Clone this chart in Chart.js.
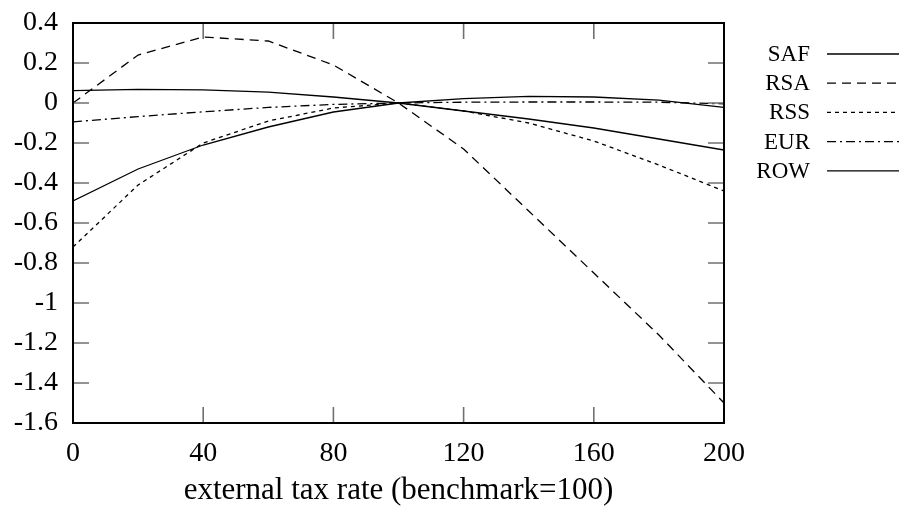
<!DOCTYPE html>
<html>
<head>
<meta charset="utf-8">
<script src="https://cdn.jsdelivr.net/npm/chart.js@4.4.1/dist/chart.umd.min.js"></script>
<style>
  html, body { margin: 0; padding: 0; background: #ffffff; }
  canvas { display: block; }
</style>
</head>
<body>
<canvas id="chart" width="899" height="510"></canvas>
<script>
// tax rate steps (benchmark = 100)
const taxRates = [0, 20, 40, 60, 80, 100, 120, 140, 160, 180, 200];

const saf = [0.062, 0.068, 0.066, 0.054, 0.03, 0, 0.022, 0.033, 0.03, 0.014, -0.022];
const rsa = [0.0, 0.24, 0.33, 0.31, 0.19, 0, -0.23, -0.54, -0.85, -1.16, -1.5];
const rss = [-0.72, -0.41, -0.2, -0.09, -0.025, 0, -0.04, -0.1, -0.19, -0.31, -0.44];
const eur = [-0.094, -0.068, -0.044, -0.022, -0.007, 0, 0.004, 0.005, 0.005, 0.004, -0.004];
const row = [-0.49, -0.33, -0.21, -0.12, -0.045, 0, -0.04, -0.08, -0.125, -0.18, -0.235];

const xTicks = [0, 40, 80, 120, 160, 200];
const yTicks = [0.4, 0.2, 0, -0.2, -0.4, -0.6, -0.8, -1, -1.2, -1.4, -1.6];

const serif = "'Liberation Serif', 'DejaVu Serif', serif";

const toPoints = (values) => values.map((v, i) => ({x: taxRates[i], y: v}));

const series = [
    {label: 'SAF', data: saf, dash: []},
    {label: 'RSA', data: rsa, dash: [9, 6]},
    {label: 'RSS', data: rss, dash: [4, 4]},
    {label: 'EUR', data: eur, dash: [9, 4, 2, 4]},
    {label: 'ROW', data: row, dash: []},
];

const datasets = series.map((s) => ({
    label: s.label,
    data: toPoints(s.data),
    borderColor: '#000000',
    borderWidth: 1.3,
    borderDash: s.dash,
    pointRadius: 0,
    tension: 0,
    fill: false,
}));

// gnuplot-like frame: border, inward mirrored ticks, legend with samples after text
const frame = {
    id: 'frame',
    afterDraw(c) {
        const ctx = c.ctx;
        const a = c.chartArea;
        const xs = c.scales.x;
        const ys = c.scales.y;
        const len = 16;
        ctx.save();
        ctx.strokeStyle = '#707070';
        ctx.lineWidth = 1.6;
        ctx.beginPath();
        xTicks.forEach((t) => {
            const px = xs.getPixelForValue(t);
            ctx.moveTo(px, a.bottom);
            ctx.lineTo(px, a.bottom - len);
            ctx.moveTo(px, a.top);
            ctx.lineTo(px, a.top + len);
        });
        yTicks.forEach((t) => {
            const py = ys.getPixelForValue(t);
            ctx.moveTo(a.left, py);
            ctx.lineTo(a.left + len, py);
            ctx.moveTo(a.right, py);
            ctx.lineTo(a.right - len, py);
        });
        ctx.stroke();

        ctx.strokeStyle = '#000000';
        ctx.lineWidth = 2;
        ctx.strokeRect(a.left, a.top, a.right - a.left, a.bottom - a.top);

        // legend
        ctx.font = '23px ' + serif;
        ctx.textAlign = 'right';
        ctx.textBaseline = 'middle';
        ctx.fillStyle = '#000000';
        c.data.datasets.forEach((ds, i) => {
            const y = 54 + i * 29.2;
            ctx.fillText(ds.label, 810, y + 1);
            ctx.beginPath();
            ctx.setLineDash(ds.borderDash);
            ctx.lineWidth = ds.borderWidth;
            ctx.moveTo(827, y);
            ctx.lineTo(899, y);
            ctx.stroke();
        });
        ctx.restore();
    },
};

new Chart(document.getElementById('chart'), {
    type: 'line',
    data: {datasets: datasets},
    options: {
        responsive: false,
        animation: false,
        layout: {
            padding: {top: 23, right: 175, bottom: 0, left: 0},
        },
        scales: {
            x: {
                type: 'linear',
                min: 0,
                max: 200,
                afterFit: (s) => {
                    s.height = 87;
                    s.paddingLeft = 0;
                    s.paddingRight = 0;
                },
                afterBuildTicks: (s) => { s.ticks = xTicks.map((v) => ({value: v})); },
                grid: {display: false, drawTicks: false},
                border: {display: false},
                ticks: {
                    color: '#000000',
                    padding: 14,
                    maxRotation: 0,
                    font: {family: serif, size: 28},
                    callback: (v) => String(v),
                },
                title: {
                    display: true,
                    text: 'external tax rate (benchmark=100)',
                    color: '#000000',
                    font: {family: serif, size: 31},
                    padding: {top: 0, bottom: 1},
                },
            },
            y: {
                min: -1.6,
                max: 0.4,
                afterFit: (s) => {
                    s.width = 73;
                    s.paddingTop = 0;
                    s.paddingBottom = 0;
                },
                afterBuildTicks: (s) => { s.ticks = yTicks.map((v) => ({value: v})); },
                grid: {display: false, drawTicks: false},
                border: {display: false},
                ticks: {
                    color: '#000000',
                    padding: 15,
                    font: {family: serif, size: 28},
                    callback: (v) => (Math.abs(v) < 1e-9 ? '0' : String(+v.toFixed(1))),
                },
            },
        },
        plugins: {
            legend: {display: false},
            tooltip: {enabled: false},
        },
    },
    plugins: [frame],
});
</script>
</body>
</html>
